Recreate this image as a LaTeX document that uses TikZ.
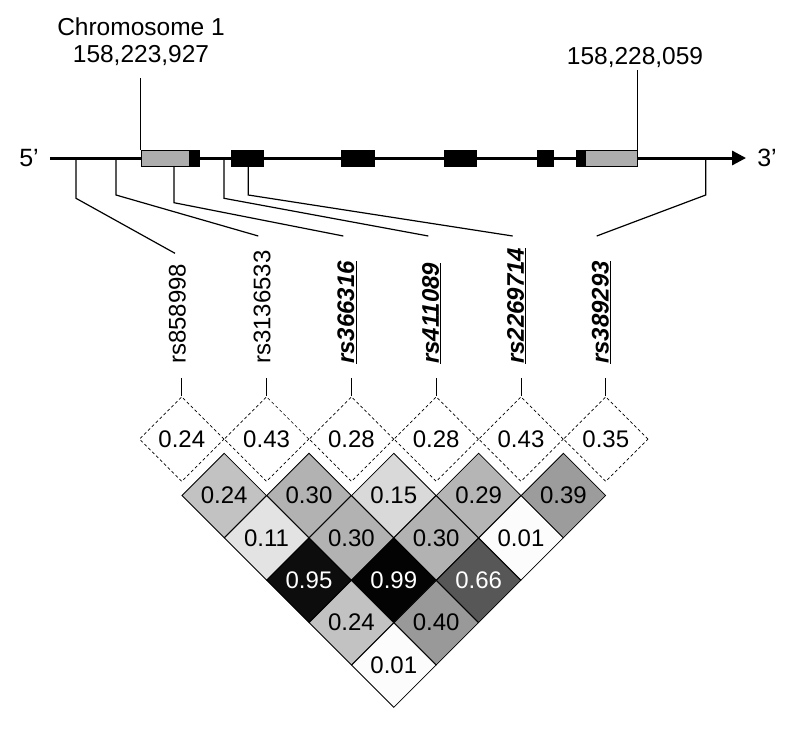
\documentclass[tikz,border=0pt]{standalone}
\usepackage{fontspec}
\setmainfont{Liberation Sans}
\usepackage{tikz}
\usetikzlibrary{arrows.meta,shapes.geometric}
\newcommand{\tagsnp}[1]{\underline{\textbf{\textit{#1}}}}

\begin{document}
\begin{tikzpicture}[x=1pt,y=-1pt,
  ldbox/.style={draw,diamond,aspect=1,minimum width=84.8pt,minimum height=84.8pt,
    inner sep=0pt,line width=0.8pt,font=\fontsize{24}{28}\selectfont},
  mafbox/.style={ldbox,dash pattern=on 3pt off 2.5pt,line width=0.7pt},
  snplabel/.style={rotate=90,anchor=west,inner sep=0pt,font=\fontsize{24}{28}\selectfont},
  exon/.style={draw,fill=black,minimum height=16pt,inner sep=0pt,line width=0.6pt},
  utr/.style={exon,fill=black!32},
  snpline/.style={line width=1.2pt},
  endlabel/.style={inner sep=0pt,align=center,font=\fontsize{24.5}{27}\selectfont}]
  \useasboundingbox (0,0) rectangle (800,729);
  % Gene
  \node[inner sep=0pt,inner xsep=11pt,font=\fontsize{25}{28}\selectfont] (five) at (29,158) {5’};
  \node[inner sep=0pt,inner xsep=11pt,font=\fontsize{25}{28}\selectfont] (three) at (767,158) {3’};
  \draw[line width=3pt,-{Triangle[length=14pt,width=14pt]}] (five.east) -- (three.west);
  \node[utr,minimum width=48pt] (utr5) at (165,158) {};
  \node[exon,minimum width=10pt] (ex1) at (194,158) {};
  \node[exon,minimum width=31.6pt] (ex2) at (247.5,158) {};
  \node[exon,minimum width=32.3pt] (ex3) at (357.9,158) {};
  \node[exon,minimum width=32.4pt] (ex4) at (460.5,158) {};
  \node[exon,minimum width=16pt] (ex5) at (545.3,158) {};
  \node[exon,minimum width=9pt] (ex6) at (580.5,158) {};
  \node[utr,minimum width=52.3pt] (utr3) at (611.2,158) {};
  % Gene ends
  \node[endlabel] (gstart) at (141,41.5) {Chromosome 1\\158,223,927};
  \node[endlabel] (gend) at (635,58) {158,228,059};
  \draw[snpline] (utr5.north west) -- ++(0,-71.5);
  \draw[snpline] (utr3.north east) -- ++(0,-79.3);
  % SNP positions
  \coordinate (g1) at (76,158);
  \coordinate (g2) at (116,158);
  \coordinate (g3) at (174,166);
  \coordinate (g4) at (224,158);
  \coordinate (g5) at (248.3,166);
  \coordinate (g6) at (705.7,158);
  \coordinate (t1) at (175,253.3);
  \coordinate (t2) at (258.3,236);
  \coordinate (t3) at (343.3,236);
  \coordinate (t4) at (428.3,236);
  \coordinate (t5) at (512.7,236);
  \coordinate (t6) at (596.7,236);
  \draw[snpline] (g1) -- ++(0,40.3) -- (t1);
  \draw[snpline] (g2) -- ++(0,37) -- (t2);
  \draw[snpline] (g3) -- ++(0,36.7) -- (t3);
  \draw[snpline] (g4) -- ++(0,40.3) -- (t4);
  \draw[snpline] (g5) -- ++(0,29) -- (t5);
  \draw[snpline] (g6) -- ++(0,37) -- (t6);
  % SNP names
  \node[snplabel] (s1) at (177.3,364) {rs858998};
  \node[snplabel] (s2) at (262.1,364) {rs3136533};
  \node[snplabel] (s3) at (346.9,364) {\tagsnp{rs366316}};
  \node[snplabel] (s4) at (431.7,364) {\tagsnp{rs411089}};
  \node[snplabel] (s5) at (516.5,364) {\tagsnp{rs2269714}};
  \node[snplabel] (s6) at (601.3,364) {\tagsnp{rs389293}};
  % Single SNP values
  \node[mafbox] (maf1) at (181.8,439.1) {0.24};
  \node[mafbox] (maf2) at (266.6,439.1) {0.43};
  \node[mafbox] (maf3) at (351.4,439.1) {0.28};
  \node[mafbox] (maf4) at (436.2,439.1) {0.28};
  \node[mafbox] (maf5) at (521.0,439.1) {0.43};
  \node[mafbox] (maf6) at (605.8,439.1) {0.35};
  \draw[line width=0.9pt] (maf1.north) -- ++(0,-18.3);
  \draw[line width=0.9pt] (maf2.north) -- ++(0,-18.3);
  \draw[line width=0.9pt] (maf3.north) -- ++(0,-18.3);
  \draw[line width=0.9pt] (maf4.north) -- ++(0,-18.3);
  \draw[line width=0.9pt] (maf5.north) -- ++(0,-18.3);
  \draw[line width=0.9pt] (maf6.north) -- ++(0,-18.3);
  % LD between pairs
  \node[ldbox,fill=black!24] (ld12) at (224.2,495.5) {0.24};
  \node[ldbox,fill=black!30] (ld23) at (309.0,495.5) {0.30};
  \node[ldbox,fill=black!15] (ld34) at (393.8,495.5) {0.15};
  \node[ldbox,fill=black!29] (ld45) at (478.6,495.5) {0.29};
  \node[ldbox,fill=black!39] (ld56) at (563.4,495.5) {0.39};
  \node[ldbox,fill=black!11] (ld13) at (266.6,537.9) {0.11};
  \node[ldbox,fill=black!30] (ld24) at (351.4,537.9) {0.30};
  \node[ldbox,fill=black!30] (ld35) at (436.2,537.9) {0.30};
  \node[ldbox,fill=black!1] (ld46) at (521.0,537.9) {0.01};
  \node[ldbox,fill=black!95,text=white] (ld14) at (309.0,580.3) {0.95};
  \node[ldbox,fill=black!99,text=white] (ld25) at (393.8,580.3) {0.99};
  \node[ldbox,fill=black!66,text=white] (ld36) at (478.6,580.3) {0.66};
  \node[ldbox,fill=black!24] (ld15) at (351.4,622.7) {0.24};
  \node[ldbox,fill=black!40] (ld26) at (436.2,622.7) {0.40};
  \node[ldbox,fill=black!1] (ld16) at (393.8,665.1) {0.01};
\end{tikzpicture}
\end{document}
